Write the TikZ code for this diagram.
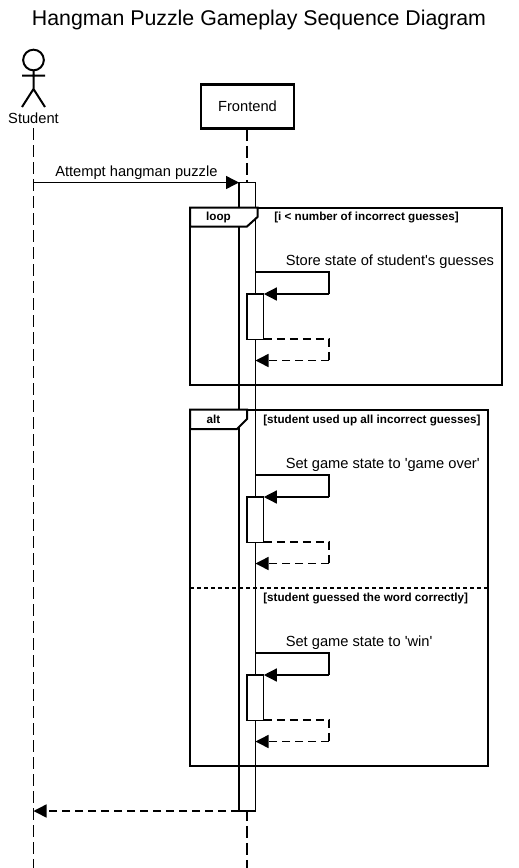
\documentclass[tikz,border=0pt]{standalone}
\usepackage{fontspec}
\newfontfamily\plainfont{Liberation Sans}
\usetikzlibrary{arrows.meta}
\tikzset{
  x=0.75pt,y=-0.75pt,
  lifeline/.style={line width=1.1pt,dash pattern=on 9pt off 3.75pt},
  msg/.style={line width=1.1pt,-{Triangle[length=9.75pt,width=9.75pt]}},
  retmsg/.style={msg,dash pattern=on 6pt off 3.75pt},
  selfline/.style={line width=1.1pt},
  selfdash/.style={line width=1.1pt,dash pattern=on 6pt off 3.75pt},
  frame/.style={draw,line width=1.5pt},
  tab/.style={draw,line width=1.5pt,fill=white},
  lbl/.style={inner sep=0pt,font=\plainfont\fontsize{11pt}{13pt}\selectfont,anchor=base west},
  grd/.style={inner sep=0pt,font=\plainfont\fontsize{8.75pt}{10pt}\selectfont\bfseries,anchor=base west},
  grdc/.style={inner sep=0pt,font=\plainfont\fontsize{8.75pt}{10pt}\selectfont\bfseries,anchor=base},
}
\begin{document}
\begin{tikzpicture}
\useasboundingbox (0,0) rectangle (518,868);
\node[inner sep=0pt,anchor=base,font=\plainfont\fontsize{16pt}{19pt}\selectfont] (title) at (259,25) {Hangman Puzzle Gameplay Sequence Diagram};
% lifelines
\coordinate (sTop) at (33.5,128);
\coordinate (sEnd) at (33.5,868);
\coordinate (fEnd) at (247,868);
\node[draw,line width=1.9pt,outer sep=0pt,minimum width=70pt,minimum height=33pt,inner sep=0pt,font=\plainfont\fontsize{11pt}{13pt}\selectfont] (frontend) at (247.5,106.75) {Frontend};
\draw[lifeline] (frontend.south -| fEnd) -- (fEnd);
\draw[lifeline] (sTop) -- (sEnd);
% actor
\node[draw,circle,line width=1.5pt,outer sep=0pt,minimum size=15.5pt,inner sep=0pt] (head) at (33.5,60) {};
\coordinate (armL) at (22,75.5);
\coordinate (armR) at (45,75.5);
\coordinate (hip) at (33.5,89);
\coordinate (legL) at (22,107);
\coordinate (legR) at (45,107);
\draw[line width=1.5pt] (head.south) -- (hip) (armL) -- (armR) (legL) -- (hip) -- (legR);
\node[inner sep=0pt,anchor=base,font=\plainfont\fontsize{11pt}{13pt}\selectfont] (student) at (33.5,123.5) {Student};
% main activation
\coordinate (mainTL) at (239,182.5);
\coordinate (mainBR) at (255.5,811);
\draw[line width=1.1pt,fill=white] (mainTL) rectangle (mainBR);
\coordinate (sA) at (33.5,182.5);
\draw[msg] (sA) -- (mainTL);
\node[lbl] (attempt) at (55,176) {Attempt hangman puzzle};
% loop frame
\draw[frame] (190,207.5) rectangle (502,385);
\draw[tab] (190,207.5) -- (257.5,207.5) -- (257.5,217) -- (247,226.5) -- (190,226.5) -- cycle;
\node[grdc] (loopL) at (218.5,220) {loop};
\node[grd] (loopG) at (274,220) {[i < number of incorrect guesses]};
% alt frame
\draw[frame] (190,409.5) rectangle (487.5,766);
\draw[tab] (190,409.5) -- (247,409.5) -- (247,419) -- (237,429) -- (190,429) -- cycle;
\node[grdc] (altL) at (213.5,423) {alt};
\node[grd] (altG) at (263,423) {[student used up all incorrect guesses]};
\draw[line width=1.5pt,dash pattern=on 3pt off 2.25pt] (190,587.5) -- (487.5,587.5);
\node[grd] (altG2) at (263,601) {[student guessed the word correctly]};
% self messages
\foreach \y/\t/\n in {272/{Store state of student's guesses}/a,475/{Set game state to 'game over'}/b,653/{Set game state to 'win'}/c}{
  \node[draw,line width=1.1pt,outer sep=0pt,fill=white,inner sep=0pt,minimum width=12.4pt,minimum height=34pt,anchor=north west] (act\n) at (247.2,\y+22) {};
  \coordinate (o\n) at (255.5,\y);
  \draw[selfline] (o\n) -- (329,\y) -- (329,\y+22);
  \draw[msg] (329,\y+22) -- (263.8,\y+22);
  \draw[selfdash] (263.8,\y+67) -- (329,\y+67) -- (329,\y+88.5);
  \draw[retmsg] (329,\y+88.5) -- (255.5,\y+88.5);
  \node[lbl] (t\n) at (285.5,\y-6.5) {\t};
}
% return
\coordinate (rS) at (239,811);
\coordinate (rE) at (33.5,811);
\draw[retmsg] (rS) -- (rE);
\end{tikzpicture}
\end{document}
